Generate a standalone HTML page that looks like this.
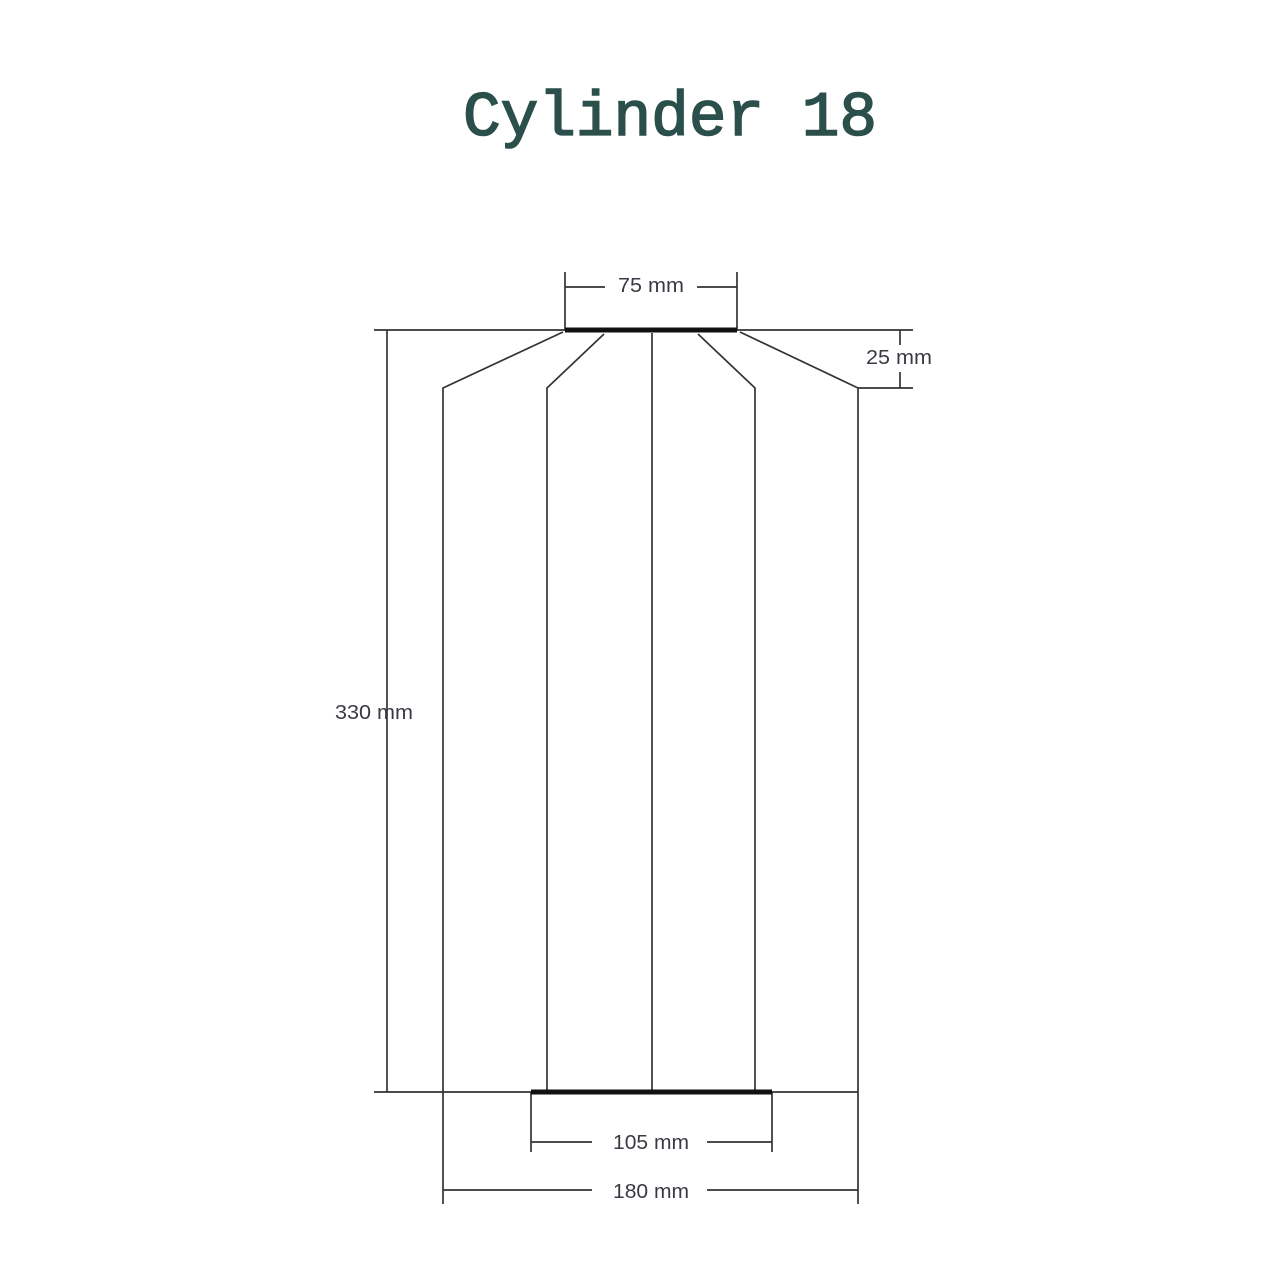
<!DOCTYPE html>
<html><head><meta charset="utf-8"><style>
html,body{margin:0;padding:0;background:#fff;width:1264px;height:1264px;overflow:hidden}
</style></head><body>
<svg width="1264" height="1264" viewBox="0 0 1264 1264" xmlns="http://www.w3.org/2000/svg">
<text x="670" y="135" text-anchor="middle" font-family="Liberation Mono, monospace" font-size="63" fill="#2b4f4b" stroke="#2b4f4b" stroke-width="1.6" textLength="414" lengthAdjust="spacingAndGlyphs">Cylinder 18</text>
<g stroke="#333" stroke-width="1.7" fill="none">
<line x1="374" y1="330" x2="913" y2="330"/>
<line x1="387" y1="330" x2="387" y2="1092"/>
<line x1="374" y1="1092" x2="858" y2="1092"/>
<line x1="565" y1="272" x2="565" y2="330"/>
<line x1="737" y1="272" x2="737" y2="330"/>
<line x1="565" y1="287" x2="605" y2="287"/>
<line x1="697" y1="287" x2="737" y2="287"/>
<polyline points="563,332 443,388 443,1092"/>
<polyline points="604,334 547,388 547,1092"/>
<line x1="652" y1="333" x2="652" y2="1092"/>
<polyline points="698,334 755,388 755,1092"/>
<polyline points="740,332 858,388 858,1204"/>
<line x1="900" y1="330" x2="900" y2="345"/>
<line x1="900" y1="372" x2="900" y2="388"/>
<line x1="858" y1="388" x2="913" y2="388"/>
<line x1="531" y1="1092" x2="531" y2="1152"/>
<line x1="772" y1="1092" x2="772" y2="1152"/>
<line x1="531" y1="1142" x2="592" y2="1142"/>
<line x1="707" y1="1142" x2="772" y2="1142"/>
<line x1="443" y1="1092" x2="443" y2="1204"/>
<line x1="443" y1="1190" x2="592" y2="1190"/>
<line x1="707" y1="1190" x2="858" y2="1190"/>
</g>
<line x1="565" y1="330" x2="737" y2="330" stroke="#111" stroke-width="5"/>
<line x1="531" y1="1092" x2="772" y2="1092" stroke="#111" stroke-width="5"/>
<g font-family="Liberation Sans Narrow, Liberation Sans, sans-serif" font-size="20" fill="#3a3a44" text-anchor="middle">
<text x="651" y="292" textLength="66" lengthAdjust="spacingAndGlyphs">75 mm</text>
<text x="899" y="364" textLength="66" lengthAdjust="spacingAndGlyphs">25 mm</text>
<text x="374" y="719" textLength="78" lengthAdjust="spacingAndGlyphs">330 mm</text>
<text x="651" y="1149" textLength="76" lengthAdjust="spacingAndGlyphs">105 mm</text>
<text x="651" y="1198" textLength="76" lengthAdjust="spacingAndGlyphs">180 mm</text>
</g>
</svg>
</body></html>
